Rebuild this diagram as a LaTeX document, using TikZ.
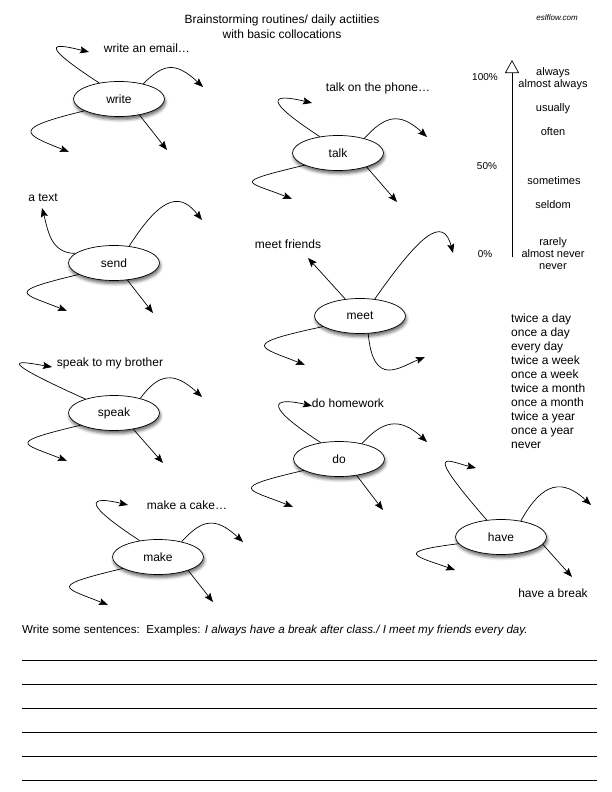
\documentclass[tikz,border=0pt]{standalone}
\usepackage{fontspec}
\setmainfont{Liberation Sans}
\usetikzlibrary{arrows.meta,shapes.geometric,shadows.blur}
\begin{document}
\begin{tikzpicture}[x=1pt,y=-1pt,
  bub/.style={ellipse,draw,line width=0.7pt,fill=white,minimum width=91pt,minimum height=35pt,inner sep=0pt,
    font=\fontsize{12}{14}\selectfont,
    blur shadow={shadow xshift=1pt,shadow yshift=-3pt,shadow blur radius=3pt,shadow opacity=60}},
  arr/.style={line width=0.7pt,-{Stealth[length=9pt,width=7pt,inset=1.5pt]}},
  lab/.style={font=\fontsize{12}{14}\selectfont,inner sep=0pt},
  scl/.style={font=\fontsize{11}{13}\selectfont,inner sep=0pt,anchor=base},
  pct/.style={font=\fontsize{10}{12}\selectfont,inner sep=0pt,anchor=base},
  rule/.style={line width=0.8pt}]
\useasboundingbox (0,0) rectangle (612,792);

% title
\node[lab] (title1) at (282,20) {Brainstorming routines/ daily actiities};
\node[lab] (title2) at (282,34) {with basic collocations};
\node[inner sep=0pt,font=\fontsize{8}{10}\selectfont\itshape] (site) at (557,18) {eslflow.com};

% write
\node[bub] (nwrite) at (119,99) {write};
\node[lab] (lwrite) at (147,48) {write an email…};
\coordinate (w1) at (89,52); \coordinate (w2) at (203,87);
\coordinate (w3) at (69,152); \coordinate (w4) at (167,150);
\draw[arr] (nwrite.141) .. controls +(-69,-45) and +(-29,-7) .. (w1);
\draw[arr] (nwrite.32) .. controls +(20,-20) and +(-28,-26) .. (w2);
\draw[arr] (nwrite.199) .. controls +(-75,18) and +(-45,-18) .. (w3);
\draw[arr] (nwrite.322) -- (w4);

% talk
\node[bub] (ntalk) at (338,153) {talk};
\node[lab] (ltalk) at (378,88) {talk on the phone…};
\coordinate (t1) at (312,103); \coordinate (t2) at (427,137);
\coordinate (t3) at (292,199); \coordinate (t4) at (397,202);
\draw[arr] (ntalk.138) .. controls +(-69,-45) and +(-29,-7) .. (t1);
\draw[arr] (ntalk.29) .. controls +(20,-22) and +(-28,-26) .. (t2);
\draw[arr] (ntalk.200) .. controls +(-75,18) and +(-45,-18) .. (t3);
\draw[arr] (ntalk.334) -- (t4);

% send
\node[bub] (nsend) at (114,263) {send};
\node[lab] (lsend) at (43,198) {a text};
\coordinate (s1) at (42,208); \coordinate (s2) at (202,220);
\coordinate (s3) at (67,311); \coordinate (s4) at (153,313);
\draw[arr] (nsend.166) .. controls +(-25,0) and +(6,22) .. (s1);
\draw[arr] (nsend.48) .. controls +(35,-55) and +(-20,-25) .. (s2);
\draw[arr] (nsend.198) .. controls +(-75,18) and +(-45,-18) .. (s3);
\draw[arr] (nsend.308) -- (s4);

% meet
\node[bub] (nmeet) at (360,316) {meet};
\node[lab] (lmeet) at (288,244) {meet friends};
\coordinate (m1) at (308,258); \coordinate (m2) at (453,253);
\coordinate (m3) at (305,365); \coordinate (m4) at (425,357);
\draw[arr] (nmeet.131) -- (m1);
\draw[arr] (nmeet.49) .. controls +(45,-64) and +(-10,-38) .. (m2);
\draw[arr] (nmeet.196) .. controls +(-85,18) and +(-45,-18) .. (m3);
\draw[arr] (nmeet.295) .. controls +(5,55) and +(-25,10) .. (m4);

% speak
\node[bub] (nspeak) at (114,413) {speak};
\node[lab] (lspeak) at (110,363) {speak to my brother};
\coordinate (k1) at (52,367); \coordinate (k2) at (202,397);
\coordinate (k3) at (67,461); \coordinate (k4) at (163,463);
\draw[arr] (nspeak.154) .. controls +(-100,-45) and +(-29,-5) .. (k1);
\draw[arr] (nspeak.29) .. controls +(18,-25) and +(-28,-26) .. (k2);
\draw[arr] (nspeak.200) .. controls +(-75,18) and +(-45,-18) .. (k3);
\draw[arr] (nspeak.320) -- (k4);

% do
\node[bub] (ndo) at (339,459) {do};
\node[lab] (ldo) at (348,403) {do homework};
\coordinate (d1) at (312,406); \coordinate (d2) at (427,442);
\coordinate (d3) at (293,507); \coordinate (d4) at (383,510);
\draw[arr] (ndo.138) .. controls +(-69,-45) and +(-29,-7) .. (d1);
\draw[arr] (ndo.34) .. controls +(20,-22) and +(-28,-26) .. (d2);
\draw[arr] (ndo.198) .. controls +(-78,18) and +(-45,-18) .. (d3);
\draw[arr] (ndo.317) -- (d4);

% make
\node[bub] (nmake) at (158,557) {make};
\node[lab] (lmake) at (187,505) {make a cake…};
\coordinate (a1) at (128,505); \coordinate (a2) at (243,542);
\coordinate (a3) at (108,605); \coordinate (a4) at (213,602);
\draw[arr] (nmake.138) .. controls +(-69,-45) and +(-29,-7) .. (a1);
\draw[arr] (nmake.33) .. controls +(20,-22) and +(-28,-26) .. (a2);
\draw[arr] (nmake.198) .. controls +(-75,18) and +(-45,-18) .. (a3);
\draw[arr] (nmake.336) -- (a4);

% have
\node[bub] (nhave) at (501,537) {have};
\node[lab] (lhave) at (553,593) {have a break};
\coordinate (h1) at (476,468); \coordinate (h2) at (591,505);
\coordinate (h3) at (455,570); \coordinate (h4) at (572,577);
\draw[arr] (nhave.130) .. controls +(-65,-75) and +(-29,-7) .. (h1);
\draw[arr] (nhave.39) .. controls +(22,-40) and +(-28,-26) .. (h2);
\draw[arr] (nhave.189) .. controls +(-65,8) and +(-40,-14) .. (h3);
\draw[arr] (nhave.350) -- (h4);

% frequency scale
\coordinate (sc0) at (512,257); \coordinate (sc1) at (512,60);
\draw[line width=0.7pt,-{Triangle[open,length=13pt,width=14pt]}] (sc0) -- (sc1);
\node[pct] (p100) at (485,81) {100\%};
\node[pct] (p50) at (487,169) {50\%};
\node[pct] (p0) at (485,257) {0\%};
\node[scl] (f1) at (553,75) {always};
\node[scl] (f2) at (553,87) {almost always};
\node[scl] (f3) at (553,111) {usually};
\node[scl] (f4) at (553,135) {often};
\node[scl] (f5) at (554,184) {sometimes};
\node[scl] (f6) at (553,208) {seldom};
\node[scl] (f7) at (553,245) {rarely};
\node[scl] (f8) at (553,257) {almost never};
\node[scl] (f9) at (553,269) {never};

% frequency expressions
\foreach \t [count=\i from 0] in {twice a day,once a day,every day,twice a week,once a week,twice a month,once a month,twice a year,once a year,never}
  \node[lab,anchor=base west] (q\i) at (511,322+14*\i) {\t};

% bottom
\node[inner sep=0pt,anchor=base west,font=\fontsize{11.6}{13}\selectfont] (task) at (22,633)
  {Write some sentences:\ \ Examples: \textit{I always have a break after class./ I meet my friends every day.}};
\foreach \yy in {660,684,708,732,756,780}
  \draw[rule] (22,\yy) -- (597,\yy);
\end{tikzpicture}
\end{document}
